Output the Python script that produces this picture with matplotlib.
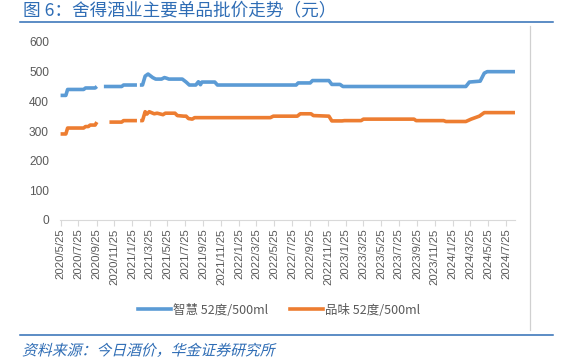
import matplotlib
matplotlib.use("Agg")
import matplotlib.pyplot as plt
import numpy as np
import pandas as pd
from matplotlib.patheffects import AbstractPathEffect
from matplotlib.transforms import Affine2D
from matplotlib.lines import Line2D

plt.rcParams['font.family'] = ['Noto Sans CJK SC', 'DejaVu Sans']

# ---------------- data ----------------
zh_dates = ["2020-05-25", "2020-06-12", "2020-06-18", "2020-08-12", "2020-08-18", "2020-09-20", "2020-09-26",
            "2020-10-05",
            "2020-10-20", "2020-12-20", "2020-12-26", "2021-02-10",
            "2021-02-15",
            "2021-02-20", "2021-03-01", "2021-03-10", "2021-03-20", "2021-04-05", "2021-04-15", "2021-05-05",
            "2021-05-15", "2021-05-22", "2021-05-30", "2021-07-15", "2021-07-28", "2021-08-08", "2021-08-30",
            "2021-09-08", "2021-09-15", "2021-09-20", "2021-09-28", "2021-11-03", "2021-11-12",
            "2022-08-08", "2022-08-15", "2022-09-25", "2022-10-03", "2022-11-28", "2022-12-08",
            "2023-01-05", "2023-01-15", "2024-03-10", "2024-03-22", "2024-04-28", "2024-05-12",
            "2024-05-22", "2024-08-25"]
zh_values = [420, 420, 440, 440, 445, 445, 450,
             np.nan,
             450, 450, 455, 455,
             np.nan,
             455, 455, 485, 492, 480, 475, 475,
             480, 478, 475, 475, 465, 455, 455,
             466, 456, 465, 465, 465, 455,
             455, 462, 462, 470, 470, 457,
             457, 450, 450, 465, 468, 495,
             500, 500]

pw_dates = ["2020-05-25", "2020-06-12", "2020-06-18", "2020-08-12", "2020-08-18", "2020-08-28", "2020-09-03",
            "2020-09-20", "2020-09-26",
            "2020-10-10",
            "2020-11-08", "2020-12-20", "2020-12-26", "2021-02-10",
            "2021-02-15",
            "2021-02-21", "2021-03-01", "2021-03-10", "2021-03-16", "2021-03-24", "2021-04-10", "2021-04-20",
            "2021-05-10", "2021-05-18", "2021-06-20", "2021-06-28", "2021-07-20", "2021-07-28", "2021-08-05",
            "2021-08-18", "2021-08-26", "2022-05-12", "2022-05-22",
            "2022-08-12", "2022-08-22", "2022-09-28", "2022-10-06", "2022-11-28", "2022-12-08",
            "2023-01-12", "2023-01-20", "2023-03-18", "2023-03-26", "2023-09-15", "2023-09-22",
            "2023-12-25", "2024-01-02", "2024-03-10", "2024-03-28", "2024-04-25", "2024-05-12",
            "2024-08-25"]
pw_values = [290, 290, 310, 310, 315, 315, 320,
             320, 330,
             np.nan,
             330, 330, 335, 335,
             np.nan,
             335, 335, 365, 357, 365, 358, 360,
             355, 360, 360, 352, 350, 350, 342,
             340, 345, 345, 350,
             350, 358, 358, 352, 350, 334,
             334, 335, 335, 340, 340, 335,
             335, 332, 332, 340, 350, 362,
             362]

tick_labels = ["2020/5/25", "2020/7/25", "2020/9/25", "2020/11/25", "2021/1/25", "2021/3/25",
               "2021/5/25", "2021/7/25", "2021/9/25", "2021/11/25", "2022/1/25", "2022/3/25",
               "2022/5/25", "2022/7/25", "2022/9/25", "2022/11/25", "2023/1/25", "2023/3/25",
               "2023/5/25", "2023/7/25", "2023/9/25", "2023/11/25", "2024/1/25", "2024/3/25",
               "2024/5/25", "2024/7/25"]
series_names = ["智慧 52度/500ml", "品味 52度/500ml"]
y_ticks = [0, 100, 200, 300, 400, 500, 600]

# ---------------- styles ----------------
BLUE = "#5B9BD5"
ORANGE = "#ED7D31"
HEAD = "#2F6DB5"
GRAY = "#595959"


class Skew(AbstractPathEffect):
    def __init__(self, deg=14):
        super().__init__()
        self.deg = deg

    def draw_path(self, renderer, gc, tpath, affine, rgbFace=None):
        renderer.draw_path(gc, tpath, Affine2D().skew_deg(self.deg, 0) + affine, rgbFace)


fig = plt.figure(figsize=(5.73, 3.59), dpi=100)
W, H = 573, 359

ax = fig.add_axes([60 / W, 1 - 220 / H, (515 - 60) / W, (220 - 42) / H])

zd = pd.to_datetime(zh_dates)
pd_ = pd.to_datetime(pw_dates)
ax.plot(zd, zh_values, color=BLUE, lw=2.6, solid_joinstyle='round', solid_capstyle='butt')
ax.plot(pd_, pw_values, color=ORANGE, lw=2.6, solid_joinstyle='round', solid_capstyle='butt')

ax.set_ylim(0, 600)
ax.set_yticks(y_ticks)
ax.set_xlim(pd.Timestamp("2020-05-23"), pd.Timestamp("2024-08-25"))
tick_dates = pd.to_datetime(tick_labels, format="%Y/%m/%d")
ax.set_xticks(tick_dates)
ax.set_xticklabels(tick_labels, rotation=90, fontsize=8.2, color=GRAY, family=['Liberation Sans'])
for lab in ax.get_yticklabels():
    lab.set_fontfamily(['Liberation Sans'])
ax.tick_params(axis='y', length=0, labelsize=8.6, labelcolor=GRAY, pad=8)
ax.tick_params(axis='x', length=4, width=0.8, color="#D9D9D9", pad=2)

for s in ['top', 'right', 'left']:
    ax.spines[s].set_visible(False)
ax.spines['bottom'].set_color("#D9D9D9")
ax.spines['bottom'].set_linewidth(0.8)

# legend
handles = [Line2D([], [], color=BLUE, lw=2.6), Line2D([], [], color=ORANGE, lw=2.6)]
leg = fig.legend(handles, series_names, loc='center', bbox_to_anchor=(279 / W, 1 - 310 / H),
                 ncol=2, frameon=False, fontsize=9.0, handlelength=2.6, handletextpad=0.15,
                 columnspacing=1.8)
for t in leg.get_texts():
    t.set_color(GRAY)

# chart frame (right edge)
fig.add_artist(Line2D([530 / W, 530 / W], [1 - 26 / H, 1 - 330 / H], color="#D0D0D0", lw=0.9))

# title and rules
fig.text(23 / W, 1 - 10 / H, "图 6：舍得酒业主要单品批价走势（元）", color=HEAD, fontsize=12.7,
         va='center', ha='left')
fig.add_artist(Line2D([20 / W, 553 / W], [1 - 22 / H, 1 - 22 / H], color=HEAD, lw=1.1))
fig.add_artist(Line2D([20 / W, 553 / W], [1 - 335 / H, 1 - 335 / H], color=HEAD, lw=1.1))
fig.text(22 / W, 1 - 351 / H, "资料来源：今日酒价，华金证券研究所", color=HEAD, fontsize=10.7,
         va='center', ha='left', path_effects=[Skew(14)])

fig.savefig("out.png", dpi=100)
